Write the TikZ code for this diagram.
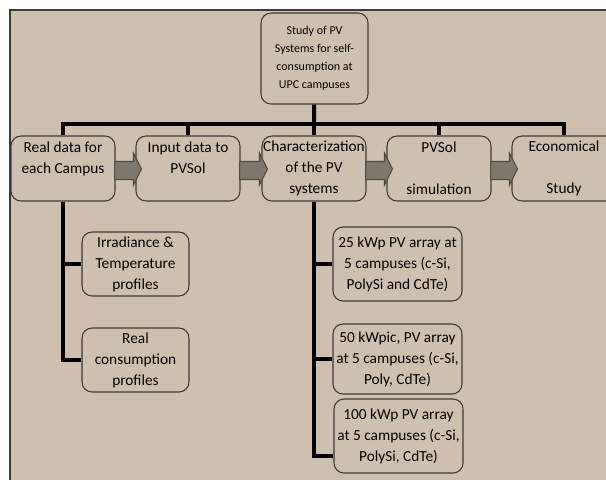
\documentclass[tikz,border=0pt]{standalone}
\usepackage{fontspec}
\setmainfont{Carlito}
\usetikzlibrary{calc}

\definecolor{sand}{RGB}{207,191,174}
\definecolor{boxline}{RGB}{62,60,56}
\definecolor{arrowfill}{RGB}{126,119,107}
\definecolor{arrowline}{RGB}{78,74,66}

\tikzset{
  box/.style={draw=boxline, fill=sand, line width=0.8pt, rounded corners=7.5pt,
    align=center, inner sep=0pt},
  topbox/.style={box, minimum width=80.25pt, minimum height=68.25pt,
    font=\fontsize{9}{13.5}\selectfont},
  stage/.style={box, minimum width=78pt, minimum height=48.75pt,
    font=\fontsize{11.5}{15.75}\selectfont},
  leaf/.style={box, minimum width=80.25pt, minimum height=48pt,
    font=\fontsize{11.5}{15.75}\selectfont},
  arraybox/.style={box, minimum width=96.75pt, minimum height=55.5pt,
    font=\fontsize{11.5}{15.75}\selectfont},
  trunk/.style={line width=3pt, black},
  blockarrow/.style={draw=arrowline, fill=arrowfill, line width=0.8pt}
}

\begin{document}
\begin{tikzpicture}[x=0.75pt,y=-0.75pt]
  \useasboundingbox (0,0) rectangle (606,479);
  \clip (0,0) rectangle (606,479);
  \fill[sand] (10,10) rectangle (620,490);
  \draw[boxline, line width=0.8pt] (10,490) |- (620,10);

  \node[topbox] (study) at (314.5,58.5) {Study of PV\\Systems for self-\\consumption at\\UPC campuses};

  \node[stage] (real)  at (63,168.5)  {Real data for\\each Campus\\\mbox{}};
  \node[stage] (input) at (188,168.5) {Input data to\\PVSol\\\mbox{}};
  \node[stage] (char)  at (314,168.5) {Characterization\\of the PV\\systems};
  \node[stage] (pvsol) at (439,168.5) {PVSol\\\mbox{}\\simulation};
  \node[stage] (econ)  at (564,168.5) {Economical\\\mbox{}\\Study};

  \node[leaf] (irr)  at (135.5,264) {Irradiance \&\\Temperature\\profiles};
  \node[leaf] (cons) at (135.5,360) {Real\\consumption\\profiles};

  \node[arraybox] (kwp25)  at (397.5,264) {25 kWp PV array at\\5 campuses (c-Si,\\PolySi and CdTe)};
  \node[arraybox, minimum height=52.5pt] (kwp50) at (397.5,359) {50 kWpic, PV array\\at 5 campuses (c-Si,\\Poly, CdTe)};
  \node[arraybox] (kwp100) at (398.5,436) {100 kWp PV array\\at 5 campuses (c-Si,\\PolySi, CdTe)};

  \coordinate (bus) at (314,124);
  \draw[trunk] (study) -- (bus);
  \foreach \n in {real,input,char,pvsol,econ}
    \draw[trunk] (\n.north) |- (bus);

  \draw[trunk] (real.south) |- (irr.west);
  \draw[trunk] (real.south) |- (cons.west);
  \draw[trunk] (char.south) |- (kwp25.west);
  \draw[trunk] (char.south) |- (kwp50.west);
  \draw[trunk] (char.south) |- ([yshift=-15pt]kwp100.west);

  \foreach \a/\b in {real/input,input/char,char/pvsol,pvsol/econ}
    \draw[blockarrow] ($(\a.east)+(-1,-7)$) -- ($(\b.west)+(-2,-7)$)
      -- ($(\b.west)+(-2,-15.5)$) -- ($(\b.west)+(6,0.5)$)
      -- ($(\b.west)+(-2,16.5)$) -- ($(\b.west)+(-2,11)$)
      -- ($(\a.east)+(-1,11)$) -- cycle;
\end{tikzpicture}
\end{document}
